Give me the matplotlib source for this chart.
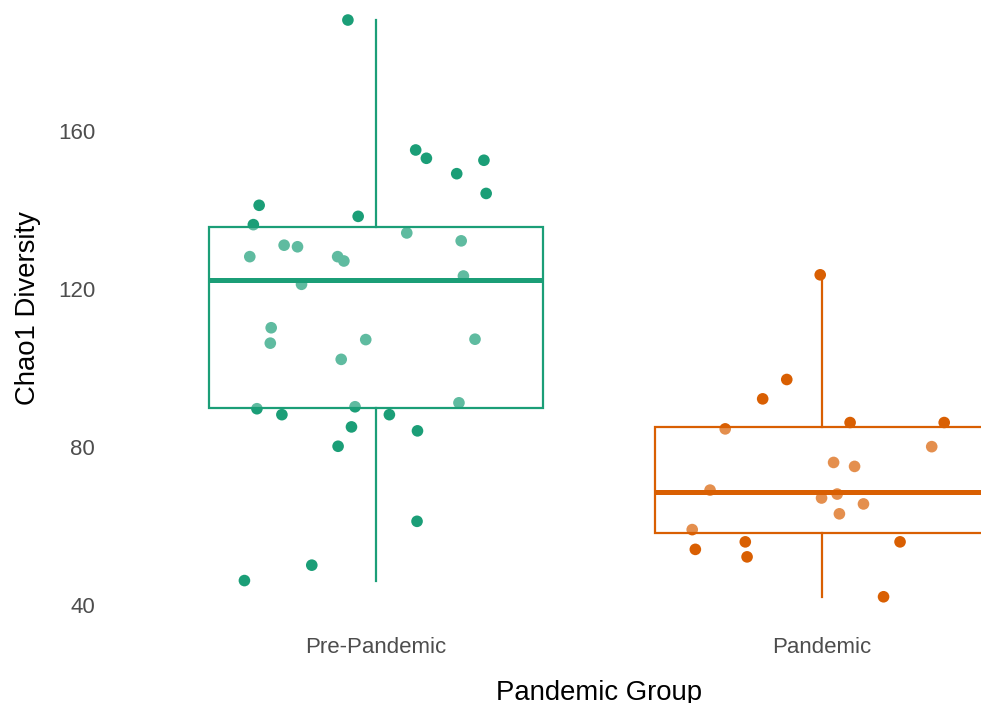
import matplotlib
matplotlib.use("Agg")
import matplotlib.pyplot as plt
import numpy as np

plt.rcParams['font.family'] = ['Liberation Sans', 'DejaVu Sans']

groups = ["Pre-Pandemic", "Pandemic"]
colors = ["#1B9E77", "#D95F02"]

# Chao1 values per sample, with the horizontal jitter used for each point
pre_chao1 = [188.1, 155.2, 153.1, 152.6, 149.2, 144.2, 141.2, 136.3, 138.4,
             134.2, 131.1, 130.7, 128.2, 128.2, 127.1, 132.2, 123.3, 121.2,
             110.2, 106.3, 107.2, 107.3, 102.2, 89.7, 90.2, 91.2, 88.2, 88.2,
             85.1, 84.1, 80.2, 61.2, 50.1, 46.2]
pre_jitter = [-0.063, 0.089, 0.113, 0.242, 0.181, 0.247, -0.262, -0.275, -0.040,
              0.069, -0.206, -0.176, -0.283, -0.086, -0.072, 0.191, 0.196, -0.167,
              -0.235, -0.237, -0.023, 0.222, -0.078, -0.267, -0.047, 0.186, -0.211,
              0.030, -0.055, 0.093, -0.085, 0.092, -0.144, -0.295]

pan_chao1 = [123.6, 97.1, 92.2, 86.2, 86.2, 84.6, 80.1, 76.1, 75.1, 69.1,
             68.1, 67.1, 65.6, 63.1, 59.1, 56.0, 54.1, 56.0, 52.2, 42.1]
pan_jitter = [-0.004, -0.079, -0.133, 0.063, 0.274, -0.217, 0.246, 0.026, 0.073, -0.251,
              0.034, -0.001, 0.093, 0.039, -0.291, -0.172, -0.284, 0.175, -0.168, 0.138]

values = [pre_chao1, pan_chao1]
jitters = [pre_jitter, pan_jitter]

W, H = 981, 703
fig = plt.figure(figsize=(W / 100, H / 100), dpi=100)
# panel runs past the right edge of the canvas
ax = fig.add_axes([108.4 / W, 77 / H, 981.2 / W, 636 / H])

for i, (vals, jit, col) in enumerate(zip(values, jitters, colors)):
    pos = i + 1
    ax.scatter(pos + np.array(jit), vals, s=70, color=col, edgecolors='none', zorder=1)
    ax.boxplot([vals], positions=[pos], widths=0.75, patch_artist=True,
               showfliers=False, showcaps=False, whis=1.5,
               boxprops=dict(facecolor=(1, 1, 1, 0.3), edgecolor=col, linewidth=1.6),
               whiskerprops=dict(color=col, linewidth=1.6),
               medianprops=dict(color=col, linewidth=3.6, solid_capstyle='butt'),
               zorder=2)

ax.set_xlim(0.4, 2.6)
ax.set_ylim(34.7, 195.7)
ax.set_xticks([1, 2])
ax.set_xticklabels(groups)
ax.set_yticks([40, 80, 120, 160])

for s in ax.spines.values():
    s.set_visible(False)
ax.tick_params(axis='both', length=0, labelsize=16, labelcolor='#4D4D4D')
ax.tick_params(axis='y', pad=9.5)
ax.tick_params(axis='x', pad=8)

ax.set_xlabel("Pandemic Group", fontsize=19.8, color='black')
ax.set_ylabel("Chao1 Diversity", fontsize=19.8, color='black')
ax.xaxis.set_label_coords(0.5, -0.085)
ax.yaxis.set_label_coords(-0.0687, 0.5)

fig.savefig("out.png", dpi=100)
